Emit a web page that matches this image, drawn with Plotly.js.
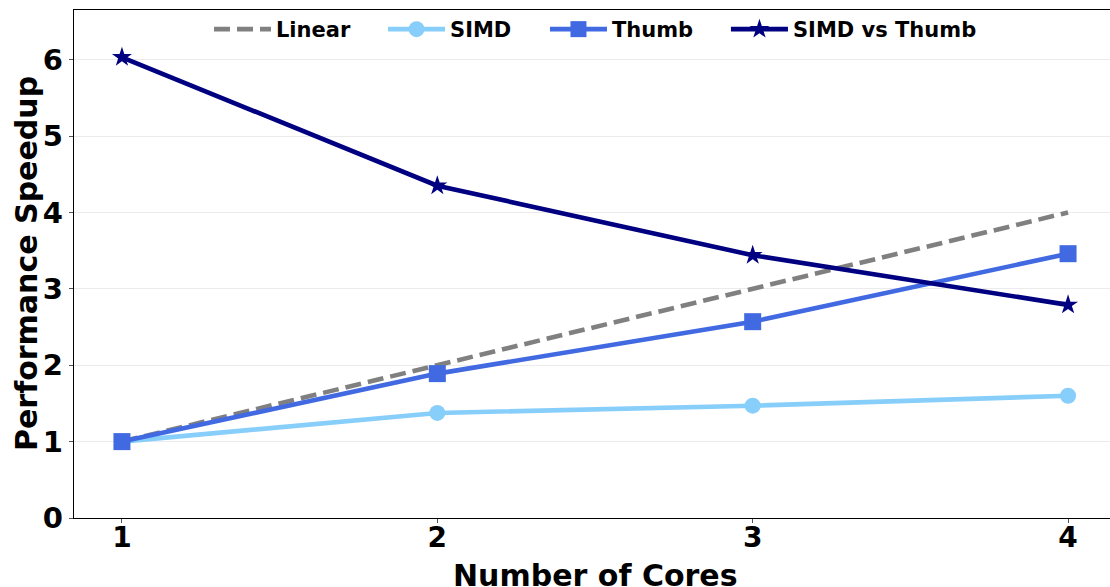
<!DOCTYPE html>
<html>
<head>
<meta charset="utf-8">
<script src="https://cdn.plot.ly/plotly-3.0.1.min.js"></script>
<style>
  html, body { margin: 0; padding: 0; background: #fff; overflow: hidden; }
  #chart { width: 1110px; height: 587px; }
</style>
</head>
<body>
<div id="chart"></div>
<script>
// Speedup vs. core count for the SIMD and Thumb builds
const cores = [1, 2, 3, 4];
const linear = [1, 2, 3, 4];
const simd = [1.0, 1.375, 1.47, 1.60];
const thumb = [1.0, 1.89, 2.57, 3.46];
const simdVsThumb = [6.03, 4.35, 3.44, 2.79];
const xTickLabels = ['1', '2', '3', '4'];
const yTickVals = [0, 1, 2, 3, 4, 5, 6];

const FONT = 'DejaVu Sans, sans-serif';
const LW = 4.6;

// plot area in pixels, used to place the axis titles
const PLOT_L = 74, PLOT_W = 1036, PLOT_B = 518, PLOT_H = 508;

const traces = [
  {
    x: cores, y: linear, name: 'Linear', mode: 'lines', legend: 'legend',
    line: { color: '#808080', width: LW, dash: '16px,7px' }
  },
  {
    x: cores, y: simd, name: 'SIMD', mode: 'lines+markers', legend: 'legend2',
    line: { color: '#87CEFA', width: LW },
    marker: { symbol: 'circle', size: 16, color: '#87CEFA' }
  },
  {
    x: cores, y: thumb, name: 'Thumb', mode: 'lines+markers', legend: 'legend3',
    line: { color: '#4169E1', width: LW },
    marker: { symbol: 'square', size: 17, color: '#4169E1' }
  },
  {
    x: cores, y: simdVsThumb, name: 'SIMD vs Thumb', mode: 'lines+markers', legend: 'legend4',
    line: { color: '#000080', width: LW },
    marker: { symbol: 'star', size: 15, color: '#000080' }
  }
];

// one legend box per entry, laid out across the top of the plot
function legendAt(x) {
  return {
    orientation: 'h',
    x: x, xanchor: 'left',
    y: 1.002, yanchor: 'top',
    bgcolor: 'rgba(255,255,255,0)',
    font: { family: FONT, size: 21, weight: 'bold', color: '#000000' },
    itemwidth: 57
  };
}

const titleFont = { family: FONT, size: 30, weight: 'bold', color: '#000000' };

const layout = {
  width: 1110,
  height: 587,
  margin: { l: 74, r: 0, t: 10, b: 69 },
  paper_bgcolor: '#ffffff',
  plot_bgcolor: '#ffffff',
  showlegend: true,
  font: { family: FONT, color: '#000000' },
  xaxis: {
    range: [0.848, 4.133],
    tickvals: cores,
    ticktext: xTickLabels,
    ticks: 'outside', ticklen: 4, tickwidth: 1, tickcolor: '#555555',
    ticklabelstandoff: -10,
    tickfont: { family: FONT, size: 28, weight: 'bold', color: '#000000' },
    showgrid: false, zeroline: false,
    showline: true, linecolor: '#000000', linewidth: 1.3, mirror: true
  },
  yaxis: {
    range: [0, 6.65],
    tickvals: yTickVals,
    ticks: 'outside', ticklen: 4, tickwidth: 1, tickcolor: '#555555',
    tickfont: { family: FONT, size: 29, weight: 'bold', color: '#000000' },
    showgrid: true, gridcolor: '#ebebeb', gridwidth: 1,
    zeroline: false,
    showline: true, linecolor: '#000000', linewidth: 1.3
  },
  annotations: [
    {
      text: 'Number of Cores',
      xref: 'paper', yref: 'paper',
      x: (595 - PLOT_L) / PLOT_W, y: (PLOT_B - 575) / PLOT_H,
      xanchor: 'center', yanchor: 'middle',
      showarrow: false,
      font: titleFont
    },
    {
      text: 'Performance Speedup',
      xref: 'paper', yref: 'paper',
      x: (26 - PLOT_L) / PLOT_W, y: 0.5,
      xanchor: 'center', yanchor: 'middle',
      textangle: -90, showarrow: false,
      font: titleFont
    }
  ],
  legend: legendAt(0.1303),
  legend2: legendAt(0.2983),
  legend3: legendAt(0.4546),
  legend4: legendAt(0.6293)
};

Plotly.newPlot('chart', traces, layout, { displayModeBar: false, staticPlot: true });
</script>
</body>
</html>
